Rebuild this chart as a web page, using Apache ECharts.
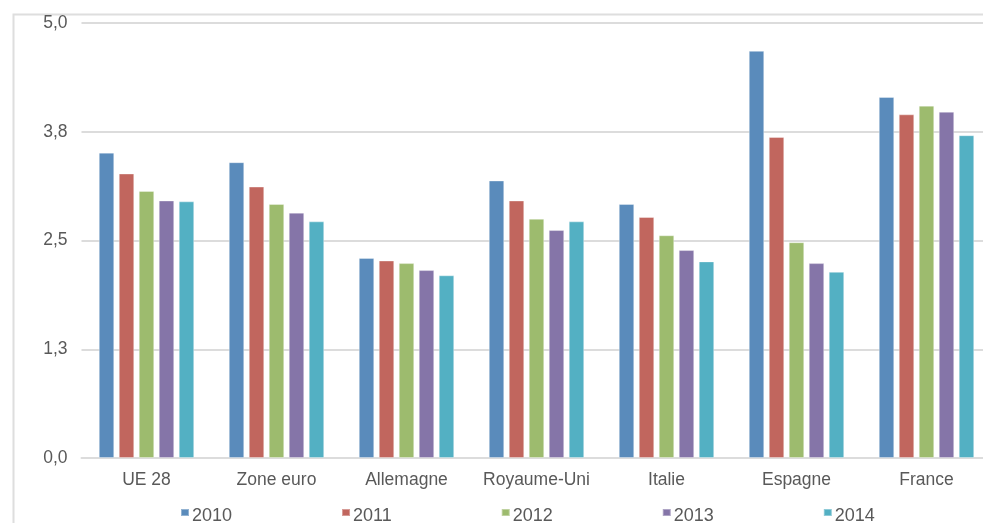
<!DOCTYPE html>
<html>
<head>
<meta charset="utf-8">
<script src="https://cdn.jsdelivr.net/npm/echarts@6/dist/echarts.min.js"></script>
<style>
  html, body { margin: 0; padding: 0; background: #ffffff; }
  #chart { width: 983px; height: 523px; }
</style>
</head>
<body>
<div id="chart"></div>
<script>
// Categories (countries / zones)
const categories = ['UE 28', 'Zone euro', 'Allemagne', 'Royaume-Uni', 'Italie', 'Espagne', 'France'];

// Yearly values per category
const years = ['2010', '2011', '2012', '2013', '2014'];
const values2010 = [3.51, 3.40, 2.30, 3.19, 2.92, 4.68, 4.15];
const values2011 = [3.27, 3.12, 2.27, 2.96, 2.77, 3.69, 3.95];
const values2012 = [3.07, 2.92, 2.24, 2.75, 2.56, 2.48, 4.05];
const values2013 = [2.96, 2.82, 2.16, 2.62, 2.39, 2.24, 3.98];
const values2014 = [2.95, 2.72, 2.10, 2.72, 2.26, 2.14, 3.71];

// Value axis tick labels (French decimal comma)
const yTickLabels = ['0,0', '1,3', '2,5', '3,8', '5,0'];

const seriesValues = [values2010, values2011, values2012, values2013, values2014];
const colors = ['#5a8bbb', '#c1665e', '#9dbb6e', '#8575a8', '#53b0c3'];

const textColor = '#595959';
const gridColor = '#dcdcdc';
const fontFamily = '"Liberation Sans", Helvetica, Arial, sans-serif';

const chart = echarts.init(document.getElementById('chart'), null, { renderer: 'canvas' });

const series = years.map((y, i) => ({
  name: y,
  type: 'bar',
  data: seriesValues[i],
  barWidth: 15.5,
  barGap: '29%',
  itemStyle: {
    color: colors[i],
    borderColor: 'rgba(255,255,255,0.35)',
    borderWidth: 1
  }
}));

chart.setOption({
  animation: false,
  backgroundColor: '#ffffff',
  textStyle: { fontFamily: fontFamily },
  graphic: [{
    type: 'rect',
    left: 11,
    top: 12,
    shape: { width: 1000, height: 600 },
    style: { fill: 'none', stroke: '#dedede', lineWidth: 2 },
    z: -1
  }],
  grid: {
    left: 81.5,
    top: 23,
    width: 910,
    height: 435,
    containLabel: false,
    outerBoundsMode: 'none'
  },
  legend: {
    left: 175,
    top: 502,
    itemWidth: 8,
    itemHeight: 14,
    itemGap: 109,
    icon: 'path://M0,0H8V7H0Z M0,14H0.01V14.01H0Z',
    textStyle: { color: textColor, fontSize: 18, fontFamily: fontFamily, padding: [0, 0, 0, -2] },
    data: years
  },
  xAxis: {
    type: 'category',
    data: categories,
    axisLine: { show: true, lineStyle: { color: gridColor, width: 2 } },
    axisTick: { show: false },
    axisLabel: { interval: 0, hideOverlap: false, color: textColor, fontSize: 17.5, margin: 13, fontFamily: fontFamily }
  },
  yAxis: {
    type: 'value',
    min: 0,
    max: 5,
    interval: 1.25,
    axisLine: { show: false },
    axisTick: { show: false },
    splitLine: { lineStyle: { color: gridColor, width: 2 } },
    axisLabel: {
      color: textColor,
      fontSize: 17.5,
      margin: 14,
      fontFamily: fontFamily,
      formatter: function (v) {
        const idx = Math.round(v / 1.25);
        return yTickLabels[idx] !== undefined ? yTickLabels[idx] : '';
      }
    }
  },
  series: series
});
</script>
</body>
</html>
